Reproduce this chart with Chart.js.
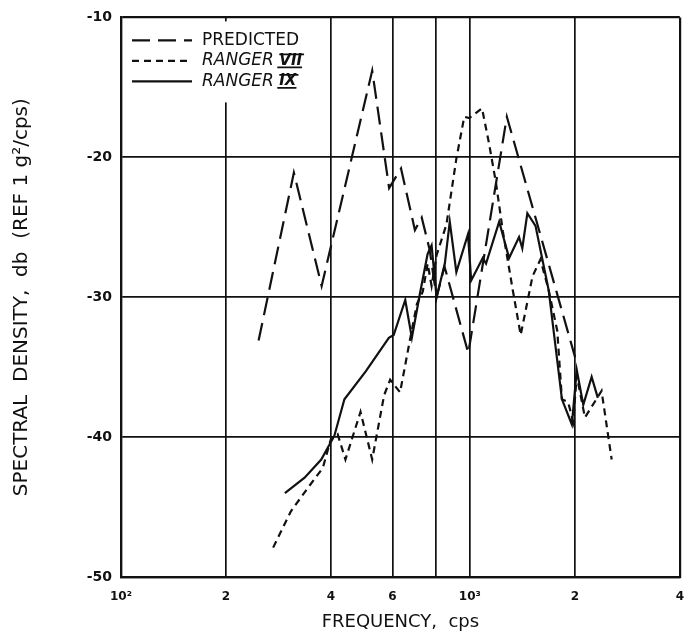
<!DOCTYPE html>
<html>
<head>
<meta charset="utf-8">
<script src="https://cdn.jsdelivr.net/npm/chart.js@4.4.0/dist/chart.umd.min.js"></script>
<style>
  html, body { margin: 0; padding: 0; background: #fff; }
  #wrap { width: 697px; height: 637px; }
</style>
</head>
<body>
<div id="wrap"><canvas id="psd" width="697" height="637"></canvas></div>
<script>
// axis ticks
const freqTicks = [100, 200, 400, 600, 800, 1000, 2000, 4000];
const freqTickLabels = ['10²', '2', '4', '6', '', '10³', '2', '4'];
const dbTicks = [-50, -40, -30, -20, -10];

// predicted spectrum (cps, db)
const predictedFreq = [248, 313, 376, 525, 587, 635, 696, 728, 767, 803, 846, 990, 1277, 2004];
const predictedDb   = [-33.1, -21.1, -29.2, -13.8, -22.2, -20.8, -25.2, -24.3, -26.6, -30.0, -27.8, -34.0, -17.1, -34.3];

// Ranger VII flight data
const ranger7Freq = [273, 307, 344, 379, 399, 418, 440, 486, 525, 568, 591, 631, 673, 705, 733, 757, 777, 803, 857, 915, 964, 996, 1084, 1135, 1188, 1244, 1328, 1399, 1513, 1594, 1683, 1781, 1837, 1914, 1978, 2026, 2138, 2386, 2551];
const ranger7Db   = [-47.9, -45.3, -43.6, -42.2, -40.2, -39.8, -41.6, -38.2, -41.6, -37.0, -35.9, -36.8, -33.1, -30.5, -29.6, -27.6, -29.2, -27.0, -24.8, -20.1, -17.1, -17.2, -16.5, -19.0, -21.8, -25.3, -29.5, -32.7, -28.5, -27.3, -29.5, -32.4, -37.3, -37.5, -38.9, -35.6, -38.6, -36.7, -41.6];

// Ranger IX flight data
const ranger9Freq = [295, 336, 375, 409, 437, 503, 586, 605, 653, 682, 720, 757, 777, 803, 848, 876, 915, 988, 1009, 1089, 1113, 1214, 1296, 1384, 1414, 1462, 1543, 1683, 1837, 1961, 2026, 2115, 2235, 2328];
const ranger9Db   = [-44.0, -42.9, -41.6, -39.9, -37.3, -35.3, -32.9, -32.7, -30.2, -32.9, -29.7, -26.9, -26.3, -30.0, -27.6, -24.6, -28.2, -25.5, -28.8, -27.2, -27.6, -24.6, -27.2, -25.7, -26.5, -24.0, -24.9, -29.5, -37.3, -39.1, -35.2, -37.7, -35.7, -37.2];

const ink = '#111';
const fontFamily = '"DejaVu Sans", "Liberation Sans", sans-serif';

const toPoints = (xs, ys) => xs.map((x, i) => ({ x: x, y: ys[i] }));

const series = [
    { label: 'PREDICTED', freq: predictedFreq, db: predictedDb, dash: [18, 8], italic: false, numeral: '' },
    { label: 'RANGER ', freq: ranger7Freq, db: ranger7Db, dash: [7, 5], italic: true, numeral: 'VII' },
    { label: 'RANGER ', freq: ranger9Freq, db: ranger9Db, dash: [], italic: true, numeral: 'IX' }
];

// legend sits in a white box in the upper left corner of the plot
const legendBox = {
    id: 'legendBox',
    beforeDatasetsDraw(chart) {
        const { ctx, chartArea } = chart;
        const left = chartArea.left;
        const top = chartArea.top;
        ctx.save();
        ctx.fillStyle = '#fff';
        ctx.fillRect(left + 2, top + 4, 205, 81);

        series.forEach((s, i) => {
            const y = top + 23 + i * 20.5;
            ctx.strokeStyle = ink;
            ctx.lineWidth = 2.2;
            ctx.setLineDash(s.dash);
            ctx.beginPath();
            ctx.moveTo(left + 11, y);
            ctx.lineTo(left + 71, y);
            ctx.stroke();
            ctx.setLineDash([]);

            ctx.fillStyle = ink;
            ctx.textBaseline = 'middle';
            ctx.font = (s.italic ? 'italic ' : '') + '17px ' + fontFamily;
            const tx = left + 81;
            ctx.fillText(s.label, tx, y);
            if (s.numeral) {
                const nx = tx + ctx.measureText(s.label).width;
                ctx.font = 'italic bold 15px ' + fontFamily;
                ctx.fillText(s.numeral, nx, y);
                const w = ctx.measureText(s.numeral).width;
                ctx.lineWidth = 1.8;
                ctx.beginPath();
                ctx.moveTo(nx, y - 6.5);
                ctx.lineTo(nx + w + 2, y - 6.5);
                ctx.moveTo(nx - 2, y + 6.5);
                ctx.lineTo(nx + w, y + 6.5);
                ctx.stroke();
            }
        });
        ctx.restore();
    }
};

const ctx = document.getElementById('psd').getContext('2d');
new Chart(ctx, {
    type: 'line',
    data: {
        datasets: series.map(s => ({
            label: s.label + s.numeral,
            data: toPoints(s.freq, s.db),
            borderColor: ink,
            borderWidth: 2.2,
            borderDash: s.dash,
            pointRadius: 0,
            tension: 0,
            fill: false
        }))
    },
    options: {
        responsive: false,
        animation: false,
        layout: { padding: { top: 10, right: 11, left: 0, bottom: 0 } },
        plugins: {
            legend: { display: false },
            tooltip: { enabled: false }
        },
        scales: {
            x: {
                type: 'logarithmic',
                min: 100,
                max: 4000,
                afterBuildTicks: (scale) => {
                    scale.ticks = freqTicks.map(v => ({ value: v }));
                },
                afterFit: (scale) => { scale.height = 60; },
                ticks: {
                    autoSkip: false,
                    maxRotation: 0,
                    padding: 13,
                    color: ink,
                    font: { family: fontFamily, size: 12, weight: 'bold' },
                    callback: (value, index) => freqTickLabels[index]
                },
                grid: {
                    color: ink,
                    lineWidth: (c) => (c.index === 0 || c.index === freqTicks.length - 1) ? 2.2 : 1.7,
                    drawTicks: false
                },
                border: { display: true, color: ink, width: 2.2 },
                title: {
                    display: true,
                    text: 'FREQUENCY,  cps',
                    color: ink,
                    font: { family: fontFamily, size: 18 },
                    padding: { top: 0, bottom: 4 }
                }
            },
            y: {
                min: -50,
                max: -10,
                afterBuildTicks: (scale) => {
                    scale.ticks = dbTicks.map(v => ({ value: v }));
                },
                afterFit: (scale) => { scale.width = 121; },
                ticks: {
                    padding: 9,
                    color: ink,
                    font: { family: fontFamily, size: 14, weight: 'bold' },
                    callback: (value) => String(value)
                },
                grid: {
                    color: ink,
                    lineWidth: (c) => (c.index === 0 || c.index === dbTicks.length - 1) ? 2.2 : 1.7,
                    drawTicks: false
                },
                border: { display: true, color: ink, width: 2.2 },
                title: {
                    display: true,
                    text: 'SPECTRAL  DENSITY,  db  (REF 1 g²/cps)',
                    color: ink,
                    font: { family: fontFamily, size: 20 },
                    padding: { top: 10, bottom: 0 }
                }
            }
        }
    },
    plugins: [legendBox]
});
</script>
</body>
</html>
